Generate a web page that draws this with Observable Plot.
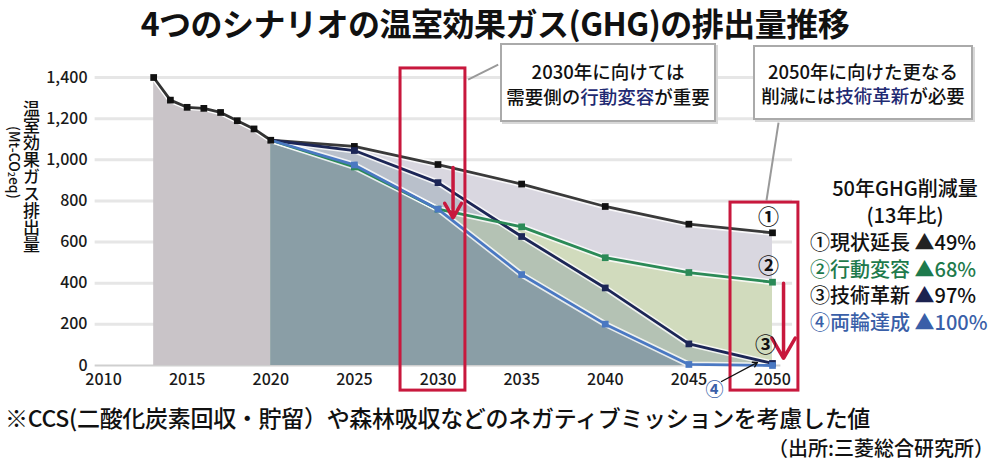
<!DOCTYPE html>
<html><head><meta charset="utf-8">
<script src="https://cdn.jsdelivr.net/npm/d3@7"></script>
<script src="https://cdn.jsdelivr.net/npm/@observablehq/plot@0.6"></script>
<style>
body{margin:0;background:#fff;font-family:"Noto Sans CJK JP","Noto Sans",sans-serif;color:#111;}
#wrap{position:relative;width:1000px;height:465px;overflow:hidden;}
#chart svg{position:absolute;left:0;top:0;}
.abs{position:absolute;white-space:nowrap;}
#title{left:0;top:0;width:990px;text-align:center;font-size:32px;font-weight:700;line-height:44px;letter-spacing:-0.5px;}
.box{background:#fff;border:2px solid #aaa;box-shadow:2px 2px 0 #d8d8d8;text-align:center;font-size:18.5px;font-weight:500;box-sizing:border-box;}
.em{color:#1f2a72;}
#ytitle{left:22px;top:100px;writing-mode:vertical-rl;font-size:17px;font-weight:500;line-height:18px;}
#yunit{left:2px;top:126px;writing-mode:vertical-rl;font-size:14px;font-weight:500;line-height:18px;}
#legend{left:810px;top:175px;width:190px;font-size:20px;font-weight:500;line-height:26.5px;}
#legend .c{text-align:center;width:190px;}
#foot{left:5px;top:405px;font-size:23px;font-weight:500;line-height:24px;letter-spacing:-0.3px;}
#src{right:6px;top:434px;font-size:20px;font-weight:500;line-height:28px;}
</style></head><body>
<div id="wrap">
<div id="chart"></div>
<div id="title" class="abs">4つのシナリオの温室効果ガス(GHG)の排出量推移</div>
<div class="abs box" style="left:500px;top:43px;width:216px;height:79px;padding-top:14px;line-height:25px;">2030年に向けては<br>需要側の<span class="em">行動変容</span>が重要</div>
<div class="abs box" style="left:753px;top:45px;width:220px;height:75px;padding-top:12px;line-height:24px;">2050年に向けた更なる<br>削減には<span class="em">技術革新</span>が必要</div>
<div id="ytitle" class="abs">温室効果ガス排出量</div>
<div id="yunit" class="abs">(Mt-CO<sub style="font-size:9px">2</sub>eq)</div>
<div id="legend" class="abs"></div>
<div id="foot" class="abs">※CCS(二酸化炭素回収・貯留）や森林吸収などのネガティブミッションを考慮した値</div>
<div id="src" class="abs">（出所:三菱総合研究所）</div>
</div>
<script>
// ---- data ----
const histYears = [2013, 2014, 2015, 2016, 2017, 2018, 2019, 2020];
const histValues = [1400, 1290, 1255, 1250, 1230, 1190, 1150, 1095];
const scenYears = [2020, 2025, 2030, 2035, 2040, 2045, 2050];
const scen1 = [1095, 1065, 977, 882, 773, 687, 645];   // ①現状延長
const scen2 = [1095, 965, 760, 674, 524, 452, 405];    // ②行動変容
const scen3 = [1095, 1045, 889, 627, 377, 105, 10];    // ③技術革新
const scen4 = [1095, 975, 760, 442, 201, 5, 0];        // ④両輪達成
const scenNames = ["①", "②", "③", "④"];
const legendLabels = ["①現状延長", "②行動変容", "③技術革新", "④両輪達成"];
const legendPcts = ["▲49%", "▲68%", "▲97%", "▲100%"];
const xTicks = [2010, 2015, 2020, 2025, 2030, 2035, 2040, 2045, 2050];
const yTicks = [0, 200, 400, 600, 800, 1000, 1200, 1400];

const lineColors = ["#3a3a3a", "#2b8a57", "#1c2656", "#4a78c2"];
const legendColors = ["#111", "#1e7a4c", "#111", "#3a5fa8"];
const triColors = ["#222", "#1e7a4c", "#1c2250", "#3a5fa8"];
const RED = "#c8183d";

const rows = (xs, vs) => xs.map((x, i) => ({x, y: vs[i]}));
const H = rows(histYears, histValues);
const S = [scen1, scen2, scen3, scen4].map(v => rows(scenYears, v));
const ends = S.map(s => s[s.length - 1]);

const lineMarks = [];
lineMarks.push(Plot.line(H, {x: "x", y: "y", stroke: "white", strokeWidth: 5.5}));
lineMarks.push(Plot.line(H, {x: "x", y: "y", stroke: "#333", strokeWidth: 2.8}));
[0, 2, 1, 3].forEach(i => {
  lineMarks.push(Plot.line(S[i], {x: "x", y: "y", stroke: "white", strokeWidth: 6, strokeOpacity: 0.8}));
});
[0, 2, 1, 3].forEach(i => {
  lineMarks.push(Plot.line(S[i], {x: "x", y: "y", stroke: lineColors[i], strokeWidth: 2.8}));
  lineMarks.push(Plot.dot(S[i].slice(1), {x: "x", y: "y", symbol: "square", r: 3.8, fill: i === 0 ? "#111" : lineColors[i]}));
});
lineMarks.push(Plot.dot(H, {x: "x", y: "y", symbol: "square", r: 3.8, fill: "#111"}));

const chart = Plot.plot({
  width: 1000, height: 400,
  marginLeft: 103, marginRight: 228, marginTop: 77, marginBottom: 35,
  x: {domain: [2010, 2050], ticks: xTicks, tickFormat: d3.format("d"), tickSize: 0, tickPadding: 8, label: null},
  y: {domain: [0, 1400], ticks: yTicks, tickFormat: d3.format(","), tickSize: 0, tickPadding: 16, label: null},
  style: {fontSize: "16px", fontFamily: "'Noto Sans CJK JP', 'Noto Sans', sans-serif", fontWeight: 500, color: "#1a1a1a", background: "transparent", overflow: "visible"},
  marks: [
    Plot.ruleY(yTicks.filter(d => d > 0), {y: d => d, x1: 2009.5, x2: 2051.2, stroke: "#e6e6e6", strokeWidth: 3}),
    Plot.ruleY([0], {y: d => d, x1: 2009.5, x2: 2050.5, stroke: "#cfcfcf", strokeWidth: 2}),
    Plot.areaY(H, {x: "x", y: "y", fill: "#c9c4c8"}),
    Plot.areaY(S[0], {x: "x", y: "y", fill: "#d9d7e0"}),
    Plot.areaY(S[1], {x: "x", y: "y", fill: "#d1dbbd"}),
    Plot.areaY(S[2], {x: "x", y: "y", fill: "#7d95a2", fillOpacity: 0.35}),
    Plot.areaY(S[3], {x: "x", y: "y", fill: "#8a9ea6"}),
    ...lineMarks,
    // leader lines from callouts
    Plot.link([0], {x1: 2033.6, y1: 1463, x2: 2031.8, y2: 1390, stroke: "#999", strokeWidth: 2}),
    Plot.link([0], {x1: 2050.36, y1: 1181, x2: 2049.64, y2: 802, stroke: "#999", strokeWidth: 2}),
    // red highlight boxes
    Plot.rect([0], {x1: 2027.76, x2: 2031.64, y1: -122, y2: 1444, fill: "none", stroke: RED, strokeWidth: 3}),
    Plot.rect([0], {x1: 2047.49, x2: 2051.55, y1: -122, y2: 792, fill: "none", stroke: RED, strokeWidth: 3}),
    // red arrows
    Plot.arrow([0], {x1: 2030.9, y1: 962, x2: 2030.9, y2: 718, stroke: RED, strokeWidth: 3.5, headLength: 10, headAngle: 60}),
    Plot.arrow([0], {x1: 2050.66, y1: 400, x2: 2050.66, y2: 35, stroke: RED, strokeWidth: 3.5, headLength: 10, headAngle: 60}),
    // scenario number labels
    Plot.text([ends[0]], {x: "x", y: "y", text: () => scenNames[0], dx: -4, dy: -16, fontSize: 21, fontWeight: 700, fill: "#111"}),
    Plot.text([ends[1]], {x: "x", y: "y", text: () => scenNames[1], dx: -4, dy: -16, fontSize: 21, fontWeight: 700, fill: "#111"}),
    Plot.text([ends[2]], {x: "x", y: "y", text: () => scenNames[2], dx: -7, dy: -18, fontSize: 21, fontWeight: 700, fill: "#111"}),
    Plot.text([ends[3]], {x: "x", y: "y", text: () => scenNames[3], dx: -58, dy: 25, fontSize: 18, fontWeight: 700, fill: "#3a5fa8"}),
    Plot.arrow([0], {x1: 2046.95, y1: -78, x2: 2049.1, y2: 15, stroke: "#111", strokeWidth: 1.3, headLength: 6})
  ]
});
document.getElementById("chart").appendChild(chart);

// legend
const lg = document.getElementById("legend");
let html = '<div class="c">50年GHG削減量</div><div class="c" style="margin-bottom:1px">(13年比)</div>';
legendLabels.forEach((l, i) => {
  html += `<div style="color:${legendColors[i]}">${l} <span style="color:${triColors[i]}">${legendPcts[i][0]}</span><span style="color:${legendColors[i]}">${legendPcts[i].slice(1)}</span></div>`;
});
lg.innerHTML = html;
</script>
</body></html>
